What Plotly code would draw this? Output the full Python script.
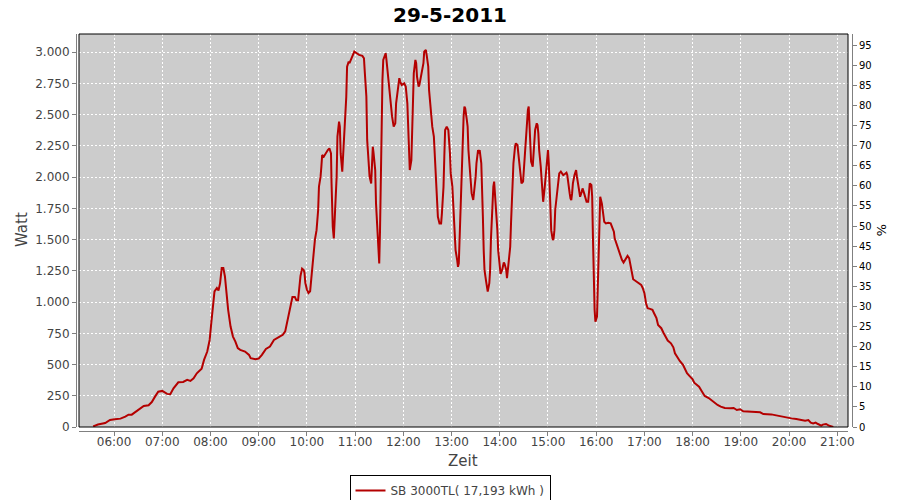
import plotly.graph_objects as go

DAY = "2011-05-29"
title_text = "29-5-2011"
series_name = "SB 3000TL( 17,193 kWh )"
x_title = "Zeit"
y_title = "Watt"
y2_title = "%"

times = [
    "05:34", "05:40", "05:49", "05:55", "06:01", "06:08", "06:14", "06:18", "06:22", "06:28",
    "06:32", "06:37", "06:43", "06:47", "06:51", "06:55", "07:00", "07:06", "07:10", "07:14",
    "07:20", "07:26", "07:31", "07:35", "07:39", "07:43", "07:49", "07:52", "07:56", "07:59",
    "08:01", "08:03", "08:05", "08:08", "08:10", "08:12", "08:14", "08:16", "08:18", "08:20",
    "08:22", "08:25", "08:28", "08:31", "08:34", "08:37", "08:43", "08:48", "08:50", "08:56",
    "09:00", "09:04", "09:09", "09:14", "09:19", "09:25", "09:30", "09:33", "09:35", "09:37",
    "09:38", "09:40", "09:42", "09:45", "09:47", "09:49", "09:50", "09:52", "09:54", "09:56",
    "09:57", "09:58", "10:00", "10:02", "10:04", "10:05", "10:07", "10:08", "10:10", "10:12",
    "10:14", "10:15", "10:17", "10:18", "10:19", "10:21", "10:23", "10:26", "10:28", "10:30:00",
    "10:30:40", "10:31:20", "10:32:10", "10:33:30", "10:35", "10:37", "10:38", "10:40", "10:41", "10:42",
    "10:44", "10:45", "10:46", "10:48", "10:49", "10:50", "10:52", "10:53", "10:55", "10:57",
    "10:59", "11:02", "11:05", "11:09", "11:11", "11:12", "11:14", "11:15", "11:17", "11:18",
    "11:20", "11:21", "11:22", "11:23", "11:25", "11:26", "11:28", "11:29", "11:30", "11:31",
    "11:32", "11:33", "11:34", "11:35", "11:37", "11:38", "11:39", "11:41", "11:43", "11:44",
    "11:46", "11:48", "11:50", "11:51", "11:53", "11:55", "11:56", "11:58", "12:01", "12:03",
    "12:05", "12:06", "12:07", "12:08", "12:10", "12:11", "12:12", "12:13", "12:15", "12:16",
    "12:17", "12:19", "12:20", "12:21", "12:23", "12:25", "12:26", "12:28", "12:29", "12:31",
    "12:32", "12:34", "12:36", "12:38", "12:39", "12:41", "12:42", "12:43", "12:45", "12:47",
    "12:48", "12:50", "12:51", "12:52", "12:54", "12:56", "12:58", "12:59", "13:01", "13:02",
    "13:03", "13:05", "13:07", "13:08", "13:09", "13:10", "13:12", "13:13", "13:14", "13:15",
    "13:16", "13:17", "13:19", "13:20", "13:21", "13:23", "13:24", "13:25", "13:27", "13:28",
    "13:30", "13:31", "13:33", "13:34", "13:35", "13:37", "13:38", "13:39", "13:40", "13:41",
    "13:43", "13:44", "13:45", "13:47", "13:48", "13:49", "13:50", "13:51", "13:52", "13:53",
    "13:54", "13:56", "13:57", "13:58", "13:59", "14:00", "14:01", "14:03", "14:05", "14:06",
    "14:08", "14:09", "14:10", "14:11", "14:12", "14:13", "14:14", "14:15", "14:16", "14:17",
    "14:19", "14:20", "14:22", "14:23", "14:24", "14:26", "14:27", "14:29", "14:30", "14:31",
    "14:33", "14:34", "14:35", "14:36", "14:37", "14:38", "14:39", "14:41", "14:42", "14:43",
    "14:44", "14:46", "14:47", "14:48", "14:49", "14:51", "14:52", "14:53", "14:54", "14:56",
    "14:57", "14:58", "14:59", "15:00", "15:01", "15:02", "15:03", "15:04", "15:06", "15:07",
    "15:08", "15:09", "15:11", "15:12", "15:13", "15:14", "15:16", "15:18", "15:19", "15:21",
    "15:23", "15:24", "15:25", "15:27", "15:28", "15:29", "15:30", "15:31", "15:33", "15:34",
    "15:35", "15:36", "15:38", "15:39", "15:40", "15:42", "15:43", "15:45", "15:47", "15:48",
    "15:50", "15:51", "15:52", "15:54", "15:55", "15:56", "15:57", "15:58", "15:59", "16:01",
    "16:02", "16:03", "16:04", "16:05", "16:07", "16:08", "16:09", "16:10", "16:12", "16:15",
    "16:18", "16:20", "16:22", "16:23", "16:25", "16:27", "16:29", "16:30", "16:32", "16:34",
    "16:36", "16:39", "16:41", "16:43", "16:45", "16:46", "16:50", "16:53", "16:56", "16:58",
    "17:00", "17:02", "17:04", "17:07", "17:10", "17:12", "17:15", "17:17", "17:21", "17:24",
    "17:27", "17:29", "17:33", "17:36", "17:38", "17:41", "17:44", "17:48", "17:51", "17:53",
    "17:56", "18:00", "18:02", "18:05", "18:08", "18:11", "18:15", "18:20", "18:23", "18:27",
    "18:31", "18:35", "18:40", "18:47", "18:51", "18:55", "18:59", "19:03", "19:09", "19:13",
    "19:17", "19:24", "19:28", "19:34", "19:38", "19:44", "19:51", "19:57", "20:03", "20:09",
    "20:14", "20:20", "20:24", "20:27", "20:30", "20:33", "20:36", "20:40", "20:42", "20:46",
    "20:49", "20:53", "20:55",
]

watts = [
    5, 20, 32, 56, 62, 67, 83, 99, 99, 126,
    147, 168, 174, 200, 243, 283, 289, 265, 262, 310,
    358, 361, 377, 369, 390, 430, 467, 537, 604, 697,
    831, 991, 1085, 1112, 1093, 1152, 1272, 1272, 1205, 1072,
    938, 804, 724, 684, 631, 617, 604, 577, 551, 543,
    548, 577, 625, 644, 697, 719, 738, 765, 831, 900,
    938, 998, 1041, 1041, 1014, 1014, 1100, 1208, 1268, 1257,
    1235, 1154, 1100, 1073, 1087, 1168, 1262, 1343, 1500, 1576,
    1737, 1924, 2004, 2084, 2177, 2164, 2190, 2217, 2231, 2190,
    1950, 1763, 1603, 1510, 1683, 2004, 2324, 2444, 2404, 2190,
    2044, 2164, 2271, 2471, 2645, 2885, 2925, 2912, 2939, 2979,
    3005, 2992, 2979, 2971, 2952, 2845, 2645, 2298, 2111, 2004,
    1950, 2137, 2244, 2190, 2057, 1790, 1550, 1363, 1309, 1576,
    2057, 2404, 2778, 2939, 2979, 2992, 2939, 2805, 2712, 2618,
    2484, 2404, 2431, 2591, 2712, 2792, 2765, 2738, 2751, 2725,
    2591, 2378, 2137, 2057, 2137, 2404, 2618, 2832, 2939, 2912,
    2805, 2725, 2738, 2778, 2832, 2912, 3005, 3019, 2979, 2885,
    2698, 2511, 2404, 2324, 2190, 2030, 1790, 1683, 1630, 1630,
    1710, 1924, 2164, 2378, 2404, 2378, 2190, 2030, 1924, 1790,
    1576, 1416, 1336, 1282, 1309, 1523, 1790, 2057, 2298, 2484,
    2565, 2551, 2458, 2404, 2217, 2057, 1950, 1870, 1817, 1870,
    2004, 2111, 2217, 2190, 2217, 2111, 1950, 1683, 1416, 1258,
    1165, 1098, 1084, 1151, 1258, 1500, 1700, 1843, 1924, 1964,
    1870, 1737, 1576, 1416, 1350, 1258, 1226, 1258, 1317, 1306,
    1258, 1191, 1258, 1285, 1338, 1443, 1630, 1817, 1950, 2111,
    2244, 2271, 2257, 2190, 2111, 1990, 1950, 1964, 2057, 2190,
    2324, 2484, 2538, 2565, 2378, 2244, 2124, 2084, 2164, 2271,
    2378, 2431, 2418, 2351, 2217, 2084, 1950, 1870, 1803, 1924,
    2004, 2111, 2177, 2217, 2111, 1977, 1763, 1576, 1496, 1510,
    1576, 1737, 1843, 1924, 1977, 2030, 2044, 2030, 2017, 2025,
    2036, 2017, 1950, 1870, 1830, 1817, 1870, 1950, 2017, 2044,
    2057, 2004, 1924, 1870, 1843, 1883, 1910, 1870, 1817, 1803,
    1803, 1924, 1950, 1937, 1843, 1500, 1125, 938, 844, 884,
    1124, 1450, 1700, 1843, 1790, 1737, 1683, 1643, 1630, 1635,
    1630, 1603, 1563, 1510, 1470, 1430, 1390, 1378, 1338, 1317,
    1338, 1370, 1352, 1271, 1218, 1183, 1165, 1151, 1138, 1111,
    1071, 991, 951, 946, 938, 911, 871, 817, 791, 751,
    711, 692, 670, 638, 590, 558, 529, 497, 462, 430,
    409, 382, 355, 337, 323, 291, 248, 232, 216, 195,
    176, 163, 152, 150, 152, 136, 142, 126, 123, 126,
    120, 118, 104, 104, 101, 93, 83, 75, 69, 64,
    56, 51, 56, 35, 29, 35, 24, 11, 19, 24,
    13, 3, 0,
]

watt_ticks = [0, 250, 500, 750, 1000, 1250, 1500, 1750, 2000, 2250, 2500, 2750, 3000]
watt_labels = ["0", "250", "500", "750", "1.000", "1.250", "1.500", "1.750", "2.000",
               "2.250", "2.500", "2.750", "3.000"]
pct_ticks = list(range(0, 100, 5))
hour_ticks = ["%02d:00" % h for h in range(6, 22)]


def ts(t):
    return f"{DAY} {t}" + (":00" if len(t) == 5 else "")


x_vals = [ts(t) for t in times]

FONT = "DejaVu Sans"
GREY_TXT = "#444444"
AXIS_GREY = "#808080"

fig = go.Figure()
fig.add_trace(go.Scatter(
    x=x_vals, y=watts, mode="lines", name=series_name,
    line=dict(color="#B40000", width=2),
    hoverinfo="skip",
))
# invisible trace to activate right axis
fig.add_trace(go.Scatter(
    x=[ts("12:00")], y=[0], yaxis="y2", mode="markers",
    marker=dict(opacity=0), showlegend=False, hoverinfo="skip",
))

# paper spans x 76..852, y 34..431 (page px); plot area 79..848 x 34..427
fig.update_layout(
    width=900, height=500,
    paper_bgcolor="white", plot_bgcolor="#CCCCCC",
    margin=dict(l=76, r=48, t=34, b=69, autoexpand=False),
    title=dict(text="<b>" + title_text + "</b>", x=0.5, xanchor="center",
               y=1 - 14.5 / 500, yanchor="middle",
               font=dict(family=FONT, size=20, color="black")),
    font=dict(family=FONT, size=12, color=GREY_TXT),
    showlegend=True,
    legend=dict(orientation="h", x=(450 - 76) / 776, xanchor="center",
                y=(431 - 475) / 397, yanchor="top",
                bordercolor="black", borderwidth=1, bgcolor="white",
                font=dict(family=FONT, size=12, color=GREY_TXT),
                itemwidth=30, tracegroupgap=0),
    xaxis=dict(
        type="date", automargin=False,
        domain=[3 / 776, 772 / 776],
        anchor="free", position=0,
        range=[ts("05:16:24"), ts("21:13:20")],
        tickvals=[ts(h) for h in hour_ticks], ticktext=hour_ticks,
        showgrid=True, gridcolor="white", gridwidth=1, griddash="2px,2px",
        showline=True, linecolor=AXIS_GREY, linewidth=1,
        ticks="outside", ticklen=4, tickcolor=AXIS_GREY,
        ticklabelstandoff=-4,
        tickfont=dict(family=FONT, size=12, color=GREY_TXT),
        zeroline=False,
    ),
    yaxis=dict(
        automargin=False,
        domain=[4 / 397, 1],
        anchor="free", position=0,
        range=[0, 3146],
        tickvals=watt_ticks, ticktext=watt_labels,
        showgrid=True, gridcolor="white", gridwidth=1, griddash="2px,2px",
        showline=True, linecolor=AXIS_GREY, linewidth=1,
        ticks="outside", ticklen=4, tickcolor=AXIS_GREY,
        tickfont=dict(family=FONT, size=12, color=GREY_TXT),
        zeroline=False,
    ),
    yaxis2=dict(
        automargin=False,
        overlaying="y", side="right",
        anchor="free", position=1,
        range=[0, 97.8],
        tickvals=pct_ticks,
        showgrid=False,
        showline=True, linecolor=AXIS_GREY, linewidth=1,
        ticks="outside", ticklen=4, tickcolor=AXIS_GREY,
        tickfont=dict(family=FONT, size=10, color="black"),
        zeroline=False,
    ),
    annotations=[
        dict(text=y_title, xref="paper", yref="paper", x=(22 - 76) / 776, y=(431 - 230) / 397,
             textangle=-90, showarrow=False, xanchor="center", yanchor="middle",
             font=dict(family=FONT, size=15, color=GREY_TXT)),
        dict(text=x_title, xref="paper", yref="paper", x=(463 - 76) / 776, y=(431 - 461) / 397,
             showarrow=False, xanchor="center", yanchor="middle",
             font=dict(family=FONT, size=15, color=GREY_TXT)),
        dict(text=y2_title, xref="paper", yref="paper", x=(882 - 76) / 776, y=(431 - 230) / 397,
             textangle=90, showarrow=False, xanchor="center", yanchor="middle",
             font=dict(family=FONT, size=13, color="black")),
    ],
    shapes=[dict(type="rect", xref="x domain", yref="y domain", x0=0, x1=1, y0=0, y1=1,
                 line=dict(color="black", width=1), fillcolor="rgba(0,0,0,0)", layer="above")],
)

fig.write_html("out.html", config={"displayModeBar": False},
               post_script="document.body.style.margin='0px';")
